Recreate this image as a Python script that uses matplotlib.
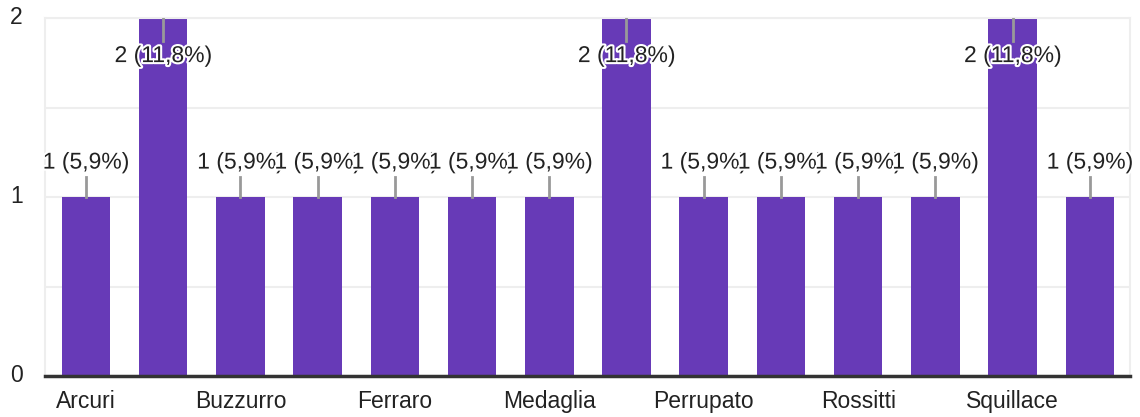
import matplotlib.pyplot as plt
import matplotlib.patheffects as pe

plt.rcParams['font.family'] = ['Liberation Sans', 'DejaVu Sans']

names = ['Arcuri', '', 'Buzzurro', '', 'Ferraro', '', 'Medaglia', '',
         'Perrupato', '', 'Rossitti', '', 'Squillace', '']
counts = [1, 2, 1, 1, 1, 1, 1, 2, 1, 1, 1, 1, 2, 1]
labels = ['1 (5,9%)', '2 (11,8%)', '1 (5,9%)', '1 (5,9%)', '1 (5,9%)', '1 (5,9%)',
          '1 (5,9%)', '2 (11,8%)', '1 (5,9%)', '1 (5,9%)', '1 (5,9%)', '1 (5,9%)',
          '2 (11,8%)', '1 (5,9%)']

bar_color = '#673ab7'
text_color = '#222222'
fs = 16.5

fig = plt.figure(figsize=(11.4, 4.17), dpi=100)
ax = fig.add_axes([45 / 1140, 1 - 376 / 417, 1085 / 1140, 358 / 417])

x = list(range(len(counts)))
ax.bar(x, counts, width=0.63, color=bar_color, zorder=2)

ax.set_xlim(-0.53, len(counts) - 1 + 0.52)
ax.set_ylim(0, 2)
ax.set_yticks([0, 1, 2])
ax.set_yticks([0.5, 1.5], minor=True)
ax.grid(axis='y', which='both', color='#eeeeee', linewidth=1.5, zorder=0)

for side in ['top', 'right', 'left']:
    ax.spines[side].set_color('#eeeeee')
    ax.spines[side].set_linewidth(1.5)
ax.spines['bottom'].set_color('#333333')
ax.spines['bottom'].set_linewidth(2.5)
ax.spines['bottom'].set_zorder(5)

ax.set_xticks(x)
ax.set_xticklabels(names, fontsize=fs, color=text_color)
ax.tick_params(axis='x', length=0, pad=10)
ax.tick_params(axis='y', which='both', length=0, labelsize=fs, labelcolor=text_color, pad=16)
for lab in ax.get_yticklabels():
    lab.set_verticalalignment('center')

stroke = [pe.withStroke(linewidth=3, foreground='white')]
for i, (c, lab) in enumerate(zip(counts, labels)):
    if c == 2:
        ax.plot([i, i], [c, c - 0.13], color='#999999', linewidth=2, zorder=3)
        ax.text(i, c - 0.21, lab, ha='center', va='center', fontsize=fs,
                color=text_color, path_effects=stroke, zorder=10 + i)
    else:
        ax.plot([i, i], [c, c + 0.11], color='#999999', linewidth=2, zorder=3)
        ax.text(i, c + 0.195, lab, ha='center', va='center', fontsize=fs,
                color=text_color, path_effects=stroke, zorder=10 + i)

fig.savefig('out.png', dpi=100)
